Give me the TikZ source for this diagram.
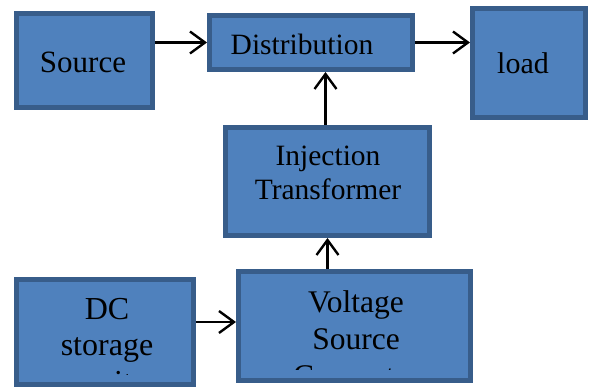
\documentclass[tikz,border=0pt]{standalone}
\usepackage{fontspec}
\setmainfont{Liberation Serif}
\usetikzlibrary{arrows.meta,calc}
\definecolor{boxfill}{HTML}{4F81BD}
\definecolor{boxline}{HTML}{385D8A}
\tikzset{
  block/.style={rectangle, draw=boxline, fill=boxfill, line width=5pt, inner sep=0pt},
  flow/.style={line width=2.4pt, -{Straight Barb[length=15pt,width=22pt,line width=2.4pt]}},
  lbl/.style={anchor=base, inner sep=0pt, text=black},
}
\newcommand{\tsize}[1]{\fontsize{#1}{#1}\selectfont}
\begin{document}
\begin{tikzpicture}[x=1pt,y=-1pt]
\useasboundingbox (0,0) rectangle (592,387);

% blocks (size = outer size minus line width)
\node[block, minimum width=136pt, minimum height=94pt]  (src)  at (84.5,60.5) {};
\node[block, minimum width=203pt, minimum height=54pt]  (dist) at (311,42.5) {};
\node[block, minimum width=113pt, minimum height=109pt] (load) at (529,63) {};
\node[block, minimum width=204pt, minimum height=108pt] (inj)  at (327.5,181.5) {};
\node[block, minimum width=232pt, minimum height=109pt] (volt) at (354.5,326) {};
\node[block, minimum width=177pt, minimum height=105pt] (dc)   at (105,332) {};

% labels, clipped to the text area of each block
\begin{scope}
  \clip ($(src.north west)+(5,5)$) rectangle ($(src.south east)+(-5,-5)$);
  \node[lbl] (src-l1) at (83,73) {\tsize{31}Source};
\end{scope}
\begin{scope}
  \clip ($(dist.north west)+(5,5)$) rectangle ($(dist.south east)+(-5,-5)$);
  \node[lbl] (dist-l1) at (302,55) {\tsize{29.5}Distribution};
\end{scope}
\begin{scope}
  \clip ($(load.north west)+(5,5)$) rectangle ($(load.south east)+(-5,-5)$);
  \node[lbl] (load-l1) at (523,74) {\tsize{30}load};
\end{scope}
\begin{scope}
  \clip ($(inj.north west)+(5,5)$) rectangle ($(inj.south east)+(-5,-5)$);
  \node[lbl] (inj-l1) at (328,166) {\tsize{29.5}Injection};
  \node[lbl] (inj-l2) at (328,200) {\tsize{29.5}Transformer};
\end{scope}
\begin{scope}
  \clip ($(volt.north west)+(5,5)$) rectangle ($(volt.south east)+(-5,-13)$);
  \node[lbl] (volt-l1) at (356,313) {\tsize{31.5}Voltage};
  \node[lbl] (volt-l2) at (356,350) {\tsize{31.5}Source};
  \node[lbl] (volt-l3) at (356,387) {\tsize{31.5}Converter};
\end{scope}
\begin{scope}
  \clip ($(dc.north west)+(5,5)$) rectangle ($(dc.south east)+(-5,-12)$);
  \node[lbl] (dc-l1) at (107,320) {\tsize{32}DC};
  \node[lbl] (dc-l2) at (107,356) {\tsize{32}storage};
  \node[lbl] (dc-l3) at (107,392) {\tsize{32}unit};
\end{scope}

% connectors
\draw[flow] (src.east |- dist.west) -- (dist.west);
\draw[flow] (dist.east) -- (dist.east -| load.west);
\draw[flow] ([xshift=-2pt]inj.north) -- ([xshift=-2pt]inj.north |- dist.south);
\draw[flow] (inj.south |- volt.north) -- (inj.south);
\draw[flow] ([yshift=4pt]volt.west -| dc.east) -- ([yshift=4pt]volt.west);
\end{tikzpicture}
\end{document}
